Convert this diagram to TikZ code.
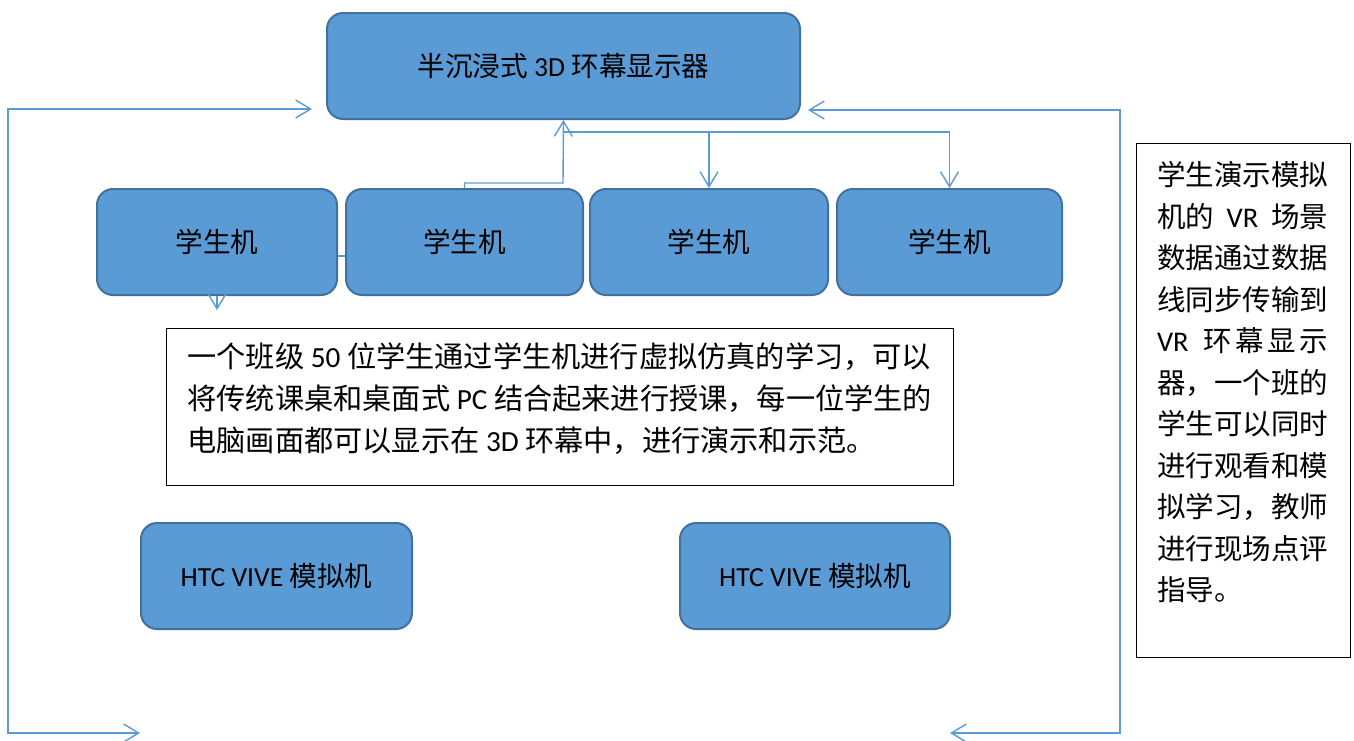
\documentclass[tikz,border=0pt]{standalone}
\usepackage{fontspec}
\setmainfont{Carlito}
\newfontfamily\cjk{Noto Sans CJK SC}
\newcommand\zh[1]{{\cjk #1}}
\usetikzlibrary{arrows.meta}
\definecolor{boxfill}{HTML}{5B9BD5}
\definecolor{boxline}{HTML}{41719C}
\definecolor{connc}{HTML}{5B9BD5}
\begin{document}
\begin{tikzpicture}[x=0.5pt,y=-0.5pt,
  rbox/.style={draw=boxline, fill=boxfill, line width=1pt, rounded corners=8pt, inner sep=0pt, anchor=north west, minimum height=53pt, font=\fontsize{13.8}{16}\selectfont},
  tbox/.style={draw=black, line width=0.6pt, inner sep=0pt, anchor=north west},
  conn/.style={draw=connc, line width=0.7pt},
  tip/.tip={Straight Barb[length=7.5pt,width=9pt,line width=0.7pt]},
  arr/.style={conn, -tip},
  arrboth/.style={conn, tip-tip},
]
\useasboundingbox (0,0) rectangle (1354,740);

% main display
\node[rbox, minimum width=236.5pt] (disp) at (326,12) {\zh{半沉浸式} 3D \zh{环幕显示器}};

% student machines
\node[rbox, minimum width=120pt]   (s1) at (96,188)  {\zh{学生机}};
\node[rbox, minimum width=118.5pt] (s2) at (345,188) {\zh{学生机}};
\node[rbox, minimum width=119pt]   (s3) at (589,188) {\zh{学生机}};
\node[rbox, minimum width=112.5pt] (s4) at (836,188) {\zh{学生机}};

% HTC VIVE
\node[rbox, minimum width=135.5pt] (h1) at (140,522) {HTC VIVE \zh{模拟机}};
\node[rbox, minimum width=135pt]   (h2) at (679,522) {HTC VIVE \zh{模拟机}};

% paragraph box
\node[tbox, minimum width=393.5pt, minimum height=78.5pt] (parabox) at (166,328) {};
\node[anchor=west, inner sep=0pt, align=left, font=\fontsize{14.6}{21}\selectfont] (paratext) at (187,399)
  {\zh{一个班级} 50 \zh{位学生通过学生机进行虚拟仿真的学习，可以}\\
   \zh{将传统课桌和桌面式} PC \zh{结合起来进行授课，每一位学生的}\\
   \zh{电脑画面都可以显示在} 3D \zh{环幕中，进行演示和示范。}};

% note box
\node[tbox, minimum width=107pt, minimum height=257pt] (notebox) at (1136,143) {};
\node[inner sep=0pt, align=left, font=\fontsize{14.25}{20.75}\selectfont] (notetext) at (1242.5,382.5)
  {\makebox[85.5pt][s]{\zh{学生演示模拟}}\\
   \makebox[85.5pt][s]{\zh{机的}\hfill VR\hfill\zh{场景}}\\
   \makebox[85.5pt][s]{\zh{数据通过数据}}\\
   \makebox[85.5pt][s]{\zh{线同步传输到}}\\
   \makebox[85.5pt][s]{VR\hspace{6pt}\hfill\zh{环}\hfill\zh{幕}\hfill\zh{显}\hfill\zh{示}}\\
   \makebox[85.5pt][s]{\zh{器，一个班的}}\\
   \makebox[85.5pt][s]{\zh{学生可以同时}}\\
   \makebox[85.5pt][s]{\zh{进行观看和模}}\\
   \makebox[85.5pt][s]{\zh{拟学习，教师}}\\
   \makebox[85.5pt][s]{\zh{进行现场点评}}\\
   \makebox[85.5pt][l]{\zh{指导。}}};

% loop coordinates
\coordinate (Ltop) at (312,109);
\coordinate (L1) at (8,109);
\coordinate (L2) at (8,733);
\coordinate (Lbot) at (140,733);
\coordinate (Rtop) at (808,110);
\coordinate (R1) at (1120,110);
\coordinate (R2) at (1120,733);
\coordinate (Rbot) at (950,733);
\coordinate (j1) at (563,183);
\coordinate (j2) at (563,132);

\draw[arrboth] (Ltop) -- (L1) -- (L2) -- (Lbot);
\draw[arrboth] (Rtop) -- (R1) -- (R2) -- (Rbot);

\draw[arr] (s2.north) |- (j1) -- (disp.south);
\draw[arr] (j2) -| (s4.north);
\draw[arr] (j2) -| (s3.north);
\draw[conn] ([yshift=-7pt]s1.east) -- ([yshift=-7pt]s2.west);
\draw[arr] (s1.south) -- ++(0,14);
\end{tikzpicture}
\end{document}
